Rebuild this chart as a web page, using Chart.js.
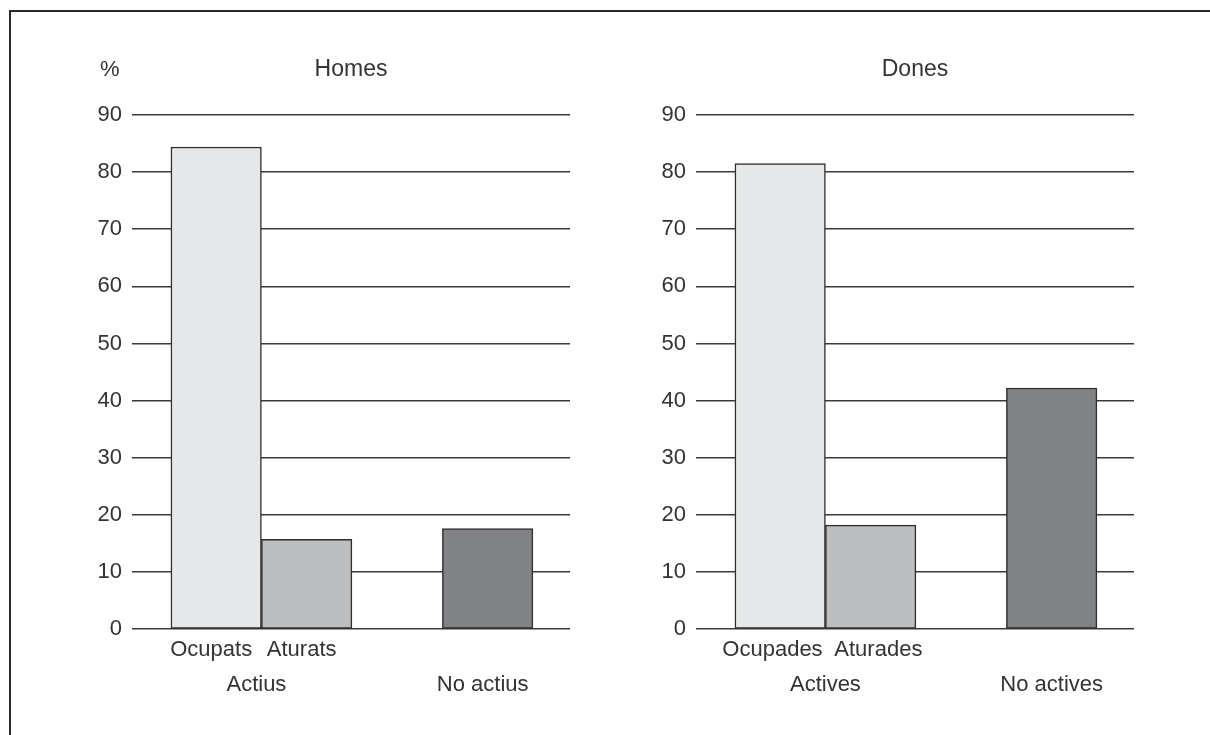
<!DOCTYPE html>
<html>
<head>
<meta charset="utf-8">
<script src="https://cdn.jsdelivr.net/npm/chart.js@4"></script>
<style>
  html, body { margin: 0; padding: 0; background: #fff; }
  body { width: 1210px; height: 735px; position: relative; overflow: hidden; }
  #frame { position: absolute; left: 9px; top: 10px; width: 1300px; height: 800px;
           border-top: 2px solid #2a2a2a; border-left: 2px solid #2a2a2a; }
  canvas { position: absolute; top: 0; }
  #homes { left: 40px; }
  #dones { left: 604px; }
</style>
</head>
<body>
<div id="frame"></div>
<canvas id="homes" width="550" height="735"></canvas>
<canvas id="dones" width="550" height="735"></canvas>
<script>
// ---- data ----
const homesCategories = ['Ocupats', 'Aturats', 'No actius'];
const homesGroups = ['Actius', 'No actius'];
const homesGroupOf = [0, 0, 1];
const homesValues = [84.4, 15.7, 17.6];

const donesCategories = ['Ocupades', 'Aturades', 'No actives'];
const donesGroups = ['Actives', 'No actives'];
const donesGroupOf = [0, 0, 1];
const donesValues = [81.5, 18.2, 42.2];

const yMin = 0, yMax = 90, yStep = 10;
const barColors = ['#e6e7e8', '#bcbec0', '#808285'];

const TEXT = '#333';
const LINE = '#3a3a3a';
const FONT = { family: '"Liberation Sans", Arial, sans-serif', size: 22 };

// draws the "%" unit label above the y tick labels
const unitLabel = {
    id: 'unitLabel',
    afterDraw(chart, args, opts) {
        if (!opts.text) return;
        const ctx = chart.ctx;
        const y = chart.scales.y;
        ctx.save();
        ctx.font = FONT.size + 'px ' + FONT.family;
        ctx.fillStyle = TEXT;
        ctx.textAlign = 'center';
        ctx.textBaseline = 'middle';
        const w = ctx.measureText(String(yMax)).width;
        ctx.fillText(opts.text, y.right - 10 - w / 2, chart.titleBlock.top + 13.8);
        ctx.restore();
    }
};

function buildPanel(id, title, cats, groups, groupOf, values, unit, labelShift, labelSpread) {
    // one empty slot between groups
    const slots = cats.map((c, i) => i + 1 + groupOf[i]);
    const groupPos = groups.map((g, gi) => {
        const s = slots.filter((_, i) => groupOf[i] === gi);
        return s.reduce((a, b) => a + b, 0) / s.length;
    });
    // first row only for bars inside multi-bar groups (pushed apart a little when wide)
    const rowOne = new Map();
    slots.forEach((s, i) => {
        if (groupOf.filter(g => g === groupOf[i]).length > 1) {
            const c = groupPos[groupOf[i]];
            rowOne.set(s + labelSpread * (s - c), cats[i]);
        }
    });
    const rowTwo = new Map(groupPos.map((p, gi) => [p, groups[gi]]));

    const xMin = 0.07, xMax = 4.91;

    new Chart(document.getElementById(id), {
        type: 'bar',
        data: {
            datasets: [{
                data: values.map((v, i) => ({ x: slots[i], y: v })),
                backgroundColor: barColors,
                borderColor: '#2e2e2e',
                borderWidth: 1.5,
                borderSkipped: false,
                categoryPercentage: 1,
                barPercentage: 1
            }]
        },
        options: {
            responsive: false,
            animation: false,
            layout: { padding: { top: 56, bottom: 36.5, left: 0, right: 20 } },
            plugins: {
                legend: { display: false },
                tooltip: { enabled: false },
                title: {
                    display: true,
                    fullSize: false,
                    text: title,
                    color: TEXT,
                    font: { family: FONT.family, size: 23, weight: 'normal' },
                    padding: { top: 0, bottom: 31.4 }
                },
                unitLabel: { text: unit }
            },
            scales: {
                x: {
                    type: 'linear',
                    position: 'bottom',
                    offset: false,
                    min: xMin, max: xMax,
                    weight: 0,
                    grid: { display: false, drawTicks: false },
                    border: { display: false },
                    afterBuildTicks: ax => { ax.ticks = [...rowOne.keys()].map(v => ({ value: v })); },
                    ticks: {
                        autoSkip: false, maxRotation: 0, padding: 7.5,
                        labelOffset: labelShift,
                        color: TEXT, font: FONT,
                        callback: v => rowOne.get(v) || ''
                    }
                },
                x2: {
                    type: 'linear',
                    position: 'bottom',
                    offset: false,
                    min: xMin, max: xMax,
                    weight: 1,
                    grid: { display: false, drawTicks: false },
                    border: { display: false },
                    afterBuildTicks: ax => { ax.ticks = groupPos.map(v => ({ value: v })); },
                    ticks: {
                        autoSkip: false, maxRotation: 0, padding: 0.8,
                        labelOffset: labelShift,
                        color: TEXT, font: FONT,
                        callback: v => rowTwo.get(v) || ''
                    }
                },
                y: {
                    min: yMin, max: yMax,
                    afterFit: ax => { ax.width = 92; },
                    grid: { color: LINE, lineWidth: 1.5, drawTicks: false },
                    border: { display: false },
                    ticks: { stepSize: yStep, padding: 10, color: TEXT, font: FONT }
                }
            }
        },
        plugins: [unitLabel]
    });
}

buildPanel('homes', 'Homes', homesCategories, homesGroups, homesGroupOf, homesValues, '%', -5, 0);
buildPanel('dones', 'Dones', donesCategories, donesGroups, donesGroupOf, donesValues, '', 0, 0.17);
</script>
</body>
</html>
